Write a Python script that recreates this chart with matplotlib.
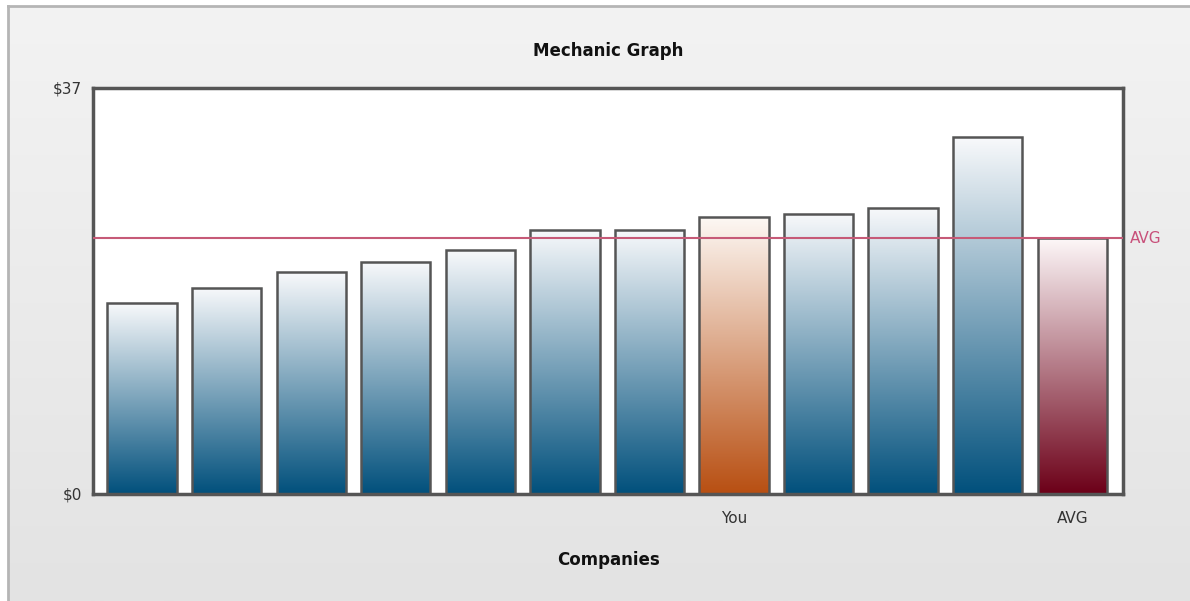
import numpy as np
import matplotlib
matplotlib.use('Agg')
import matplotlib.pyplot as plt
from matplotlib.colors import LinearSegmentedColormap
from matplotlib.patches import Rectangle
from matplotlib.lines import Line2D

# 数据
companies = ['', '', '', '', '', '', '', 'You', '', '', '', 'AVG']
values = [17.4, 18.8, 20.2, 21.15, 22.2, 24.1, 24.1, 25.2, 25.55, 26.1, 32.5, 23.3]
kinds = ['other'] * 7 + ['you'] + ['other'] * 3 + ['avg']
avg_value = 23.3
y_max = 37

bottom_colors = {'other': '#01507c', 'you': '#b84f12', 'avg': '#6c0018'}
top_colors = {'other': '#f8f9fb', 'you': '#fdf8f4', 'avg': '#fdf7f8'}

W, H = 1190, 601
fig = plt.figure(figsize=(W / 100, H / 100), dpi=100)
fig.patch.set_facecolor('white')

# 背景渐变
bg = fig.add_axes([8 / W, 0, 1 - 8 / W, 1 - 6 / H])
bg.imshow(np.linspace(0, 1, 256).reshape(-1, 1), aspect='auto',
          cmap=LinearSegmentedColormap.from_list('bg', ['#f3f3f3', '#e3e3e3']),
          extent=[0, 1, 0, 1], origin='upper')
bg.set_axis_off()
fig.add_artist(Line2D([8 / W, 8 / W], [0, 1 - 6 / H], color='#b5b5b5', lw=2))
fig.add_artist(Line2D([8 / W, 1], [1 - 6 / H, 1 - 6 / H], color='#b5b5b5', lw=2))

ax = fig.add_axes([93 / W, 107 / H, 1030 / W, 406 / H])
ax.set_facecolor('white')
x = np.arange(len(values))

bar_w = 0.82
grad = np.linspace(0, 1, 256).reshape(-1, 1)
for xi, v, k in zip(x, values, kinds):
    cmap = LinearSegmentedColormap.from_list(k, [top_colors[k], bottom_colors[k]])
    rect = Rectangle((xi - bar_w / 2, 0), bar_w, v, facecolor='none',
                     edgecolor='#555555', lw=1.8, zorder=3)
    ax.add_patch(rect)
    im = ax.imshow(grad, aspect='auto', cmap=cmap, origin='upper',
                   extent=[xi - bar_w / 2, xi + bar_w / 2, 0, v], zorder=2)
    im.set_clip_path(rect)

ax.set_xlim(-0.58, len(values) - 0.4)
ax.set_ylim(0, y_max)

# 平均线
ax.axhline(avg_value, color='#c65a77', lw=1.5, zorder=4)
ax.text(len(values) - 0.4 + 0.08, avg_value, 'AVG', color='#c8507a',
        fontsize=11, va='center', ha='left', clip_on=False)

for s in ax.spines.values():
    s.set_color('#555555')
    s.set_linewidth(2.5)

ax.set_xticks(x)
ax.set_xticklabels(companies, fontsize=11, color='#333333')
ax.set_yticks([0, y_max])
ax.set_yticklabels(['$0', f'${y_max}'], fontsize=11, color='#333333')
ax.tick_params(length=0, pad=8)
ax.tick_params(axis='x', pad=12)

ax.set_title('Mechanic Graph', fontsize=12, fontweight='bold', pad=23,
             color='#111111')
ax.set_xlabel('Companies', fontsize=12, fontweight='bold', labelpad=18,
              color='#111111')

fig.savefig('out.png', dpi=100)
